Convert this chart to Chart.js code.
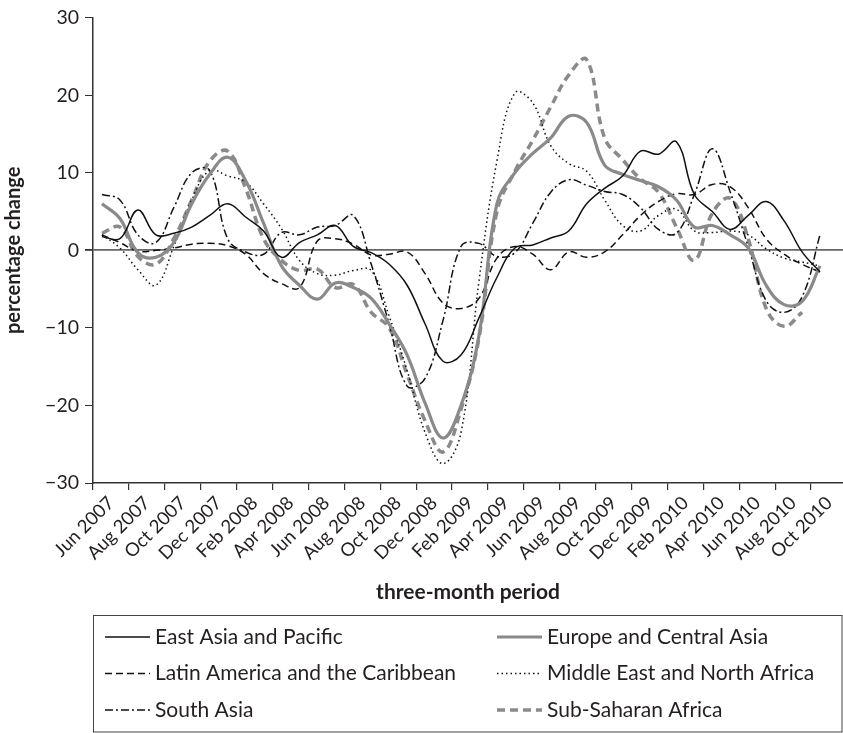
<!DOCTYPE html>
<html>
<head>
<meta charset="utf-8">
<script src="https://cdn.jsdelivr.net/npm/chart.js@4.4.1/dist/chart.umd.min.js"></script>
<style>
  html, body { margin: 0; padding: 0; background: #fff; }
  #wrap { width: 843px; height: 733px; }
</style>
</head>
<body>
<div id="wrap"><canvas id="chart" width="843" height="733"></canvas></div>
<script>
'use strict';
// monthly three-month periods, Jun 2007 .. Oct 2010
const months = [
  'Jun 2007', 'Jul 2007', 'Aug 2007', 'Sep 2007', 'Oct 2007', 'Nov 2007', 'Dec 2007',
  'Jan 2008', 'Feb 2008', 'Mar 2008', 'Apr 2008', 'May 2008', 'Jun 2008', 'Jul 2008',
  'Aug 2008', 'Sep 2008', 'Oct 2008', 'Nov 2008', 'Dec 2008', 'Jan 2009', 'Feb 2009',
  'Mar 2009', 'Apr 2009', 'May 2009', 'Jun 2009', 'Jul 2009', 'Aug 2009', 'Sep 2009',
  'Oct 2009', 'Nov 2009', 'Dec 2009', 'Jan 2010', 'Feb 2010', 'Mar 2010', 'Apr 2010',
  'May 2010', 'Jun 2010', 'Jul 2010', 'Aug 2010', 'Sep 2010', 'Oct 2010'
];
const xTickLabels = [
  'Jun 2007', 'Aug 2007', 'Oct 2007', 'Dec 2007', 'Feb 2008', 'Apr 2008', 'Jun 2008',
  'Aug 2008', 'Oct 2008', 'Dec 2008', 'Feb 2009', 'Apr 2009', 'Jun 2009', 'Aug 2009',
  'Oct 2009', 'Dec 2009', 'Feb 2010', 'Apr 2010', 'Jun 2010', 'Aug 2010', 'Oct 2010'
];
const yTicks = [-30, -20, -10, 0, 10, 20, 30];

const eastAsia = [1.8, 1.5, 5.2, 2.0, 2.2, 3.0, 4.5, 6.0, 4.3, 2.5, -0.9, 1.0, 2.0, 3.2, 0.5,
  -0.3, -1.8, -4.5, -9.5, -14.3, -13.5, -8.7, -3.5, 0.3, 0.7, 1.6, 2.5, 6.0, 8.0, 9.6,
  12.8, 12.4, 14.0, 7.2, 5.0, 2.7, 4.5, 6.3, 3.8, -0.2, -2.8];
const europe = [6.0, 4.1, -0.3, -0.9, 1.0, 6.0, 9.8, 12.0, 9.0, 3.5, -2.0, -4.5, -6.3, -4.2, -4.8,
  -6.2, -9.5, -13.5, -19.7, -24.2, -20.0, -11.0, 6.0, 10.0, 12.5, 14.5, 17.3, 16.5, 11.0, 9.8,
  9.0, 8.2, 6.5, 3.0, 3.2, 2.0, 0.3, -4.5, -7.0, -6.6, -2.0];
const latinAmerica = [2.0, 1.0, -0.1, 0.0, 0.3, 0.8, 0.9, 0.6, -0.5, -3.0, -4.3, -4.8, 1.2, 1.5, 0.8,
  -0.6, -0.5, -0.2, -3.0, -6.8, -7.5, -6.2, -1.0, 0.5, -0.5, -2.5, -0.2, -0.9, -0.2, 2.0,
  4.5, 6.3, 7.3, 7.2, 8.5, 8.2, 5.5, 1.5, -0.5, -1.8, -2.8];
const middleEast = [2.0, 0.3, -2.5, -4.5, 0.5, 6.5, 10.3, 9.6, 8.8, 6.0, 2.8, -1.3, -3.0, -3.2, -2.6,
  -2.6, -8.5, -15.5, -23.5, -27.5, -23.5, -4.0, 11.5, 20.3, 19.0, 13.5, 11.2, 10.2, 6.5, 3.2,
  2.5, 4.5, 5.3, 2.5, 2.3, 2.5, 2.0, 0.2, -1.0, -1.5, -2.0];
const southAsia = [7.2, 6.5, 2.0, 1.0, 5.5, 10.0, 10.3, 1.5, -0.2, -0.5, 2.3, 2.0, 3.0, 3.2, 4.5,
  -1.8, -9.5, -17.5, -16.5, -9.0, 0.5, 0.9, -0.8, -0.3, 3.5, 7.5, 9.1, 8.4, 7.6, 7.2,
  5.5, 2.7, 2.2, 7.2, 13.1, 7.5, 0.5, -6.5, -8.0, -6.0, 2.0];
const subSaharan = [2.2, 3.0, -0.8, -1.8, 1.5, 6.5, 11.5, 12.8, 8.0, 1.5, -1.3, -2.6, -2.4, -4.8, -4.4,
  -8.0, -10.0, -16.0, -22.0, -26.0, -20.5, -11.3, 5.0, 10.2, 14.2, 18.5, 22.6, 24.6, 14.5, 11.7,
  9.2, 7.5, 3.0, -1.3, 4.8, 6.7, 1.5, -7.5, -9.8, -8.0, null];

const FONT = 'Lato, "Noto Sans", sans-serif';
const INK = '#231f20';
const GREY = '#8a8a8a';

const toPoints = arr => months.map((m, i) => ({ x: i, y: arr[i] }));

const series = [
  { label: 'East Asia and Pacific', data: eastAsia, color: '#111', width: 1.5, dash: [] },
  { label: 'Europe and Central Asia', data: europe, color: GREY, width: 3.2, dash: [] },
  { label: 'Latin America and the Caribbean', data: latinAmerica, color: '#111', width: 1.5, dash: [7, 4] },
  { label: 'Middle East and North Africa', data: middleEast, color: '#111', width: 1.5, dash: [1.5, 3] },
  { label: 'South Asia', data: southAsia, color: '#111', width: 1.5, dash: [8, 3, 2, 3] },
  { label: 'Sub-Saharan Africa', data: subSaharan, color: GREY, width: 3.5, dash: [8, 5] }
];

// boxed two-column legend under the x axis title
const boxLegend = {
  id: 'boxLegend',
  afterDraw(chart) {
    const ctx = chart.ctx;
    ctx.save();
    ctx.strokeStyle = '#444';
    ctx.lineWidth = 1;
    ctx.setLineDash([]);
    ctx.strokeRect(93.5, 615.5, 748.5, 116.5);
    chart.data.datasets.forEach((ds, i) => {
      const col = i % 2, row = Math.floor(i / 2);
      const x0 = col ? 497 : 105;
      const y = 637 + row * 36.5;
      ctx.beginPath();
      ctx.setLineDash(ds.borderDash || []);
      ctx.lineWidth = ds.borderWidth;
      ctx.strokeStyle = ds.borderColor;
      ctx.moveTo(x0, y);
      ctx.lineTo(x0 + 45, y);
      ctx.stroke();
      ctx.setLineDash([]);
      ctx.fillStyle = INK;
      ctx.font = '21px ' + FONT;
      ctx.textBaseline = 'middle';
      ctx.fillText(ds.label, x0 + 50, y);
    });
    ctx.restore();
  }
};

new Chart(document.getElementById('chart'), {
  type: 'line',
  data: {
    datasets: series.map(s => ({
      label: s.label,
      data: toPoints(s.data),
      borderColor: s.color,
      borderWidth: s.width,
      borderDash: s.dash,
      borderCapStyle: 'butt',
      pointRadius: 0,
      tension: 0.4,
      fill: false
    }))
  },
  options: {
    responsive: false,
    animation: false,
    layout: { padding: { top: 6, right: 0, bottom: 118, left: 0 } },
    plugins: { legend: { display: false }, tooltip: { enabled: false } },
    scales: {
      x: {
        type: 'linear',
        min: -0.5,
        max: 41.28,
        afterBuildTicks: s => { s.ticks = xTickLabels.map((_, k) => ({ value: -0.5 + 2 * k })); },
        afterFit: s => { s.height = 132; },
        ticks: {
          autoSkip: false, minRotation: 45, maxRotation: 45, labelOffset: 18, padding: 2,
          color: INK, font: { family: FONT, size: 18.5 },
          callback: (v, k) => xTickLabels[k]
        },
        grid: { drawOnChartArea: false, tickLength: 7, color: '#333', lineWidth: 1.2 },
        border: { color: '#333', width: 1.5 },
        title: {
          display: true, text: 'three-month period', color: INK,
          font: { family: FONT, size: 21, weight: 'bold' }, padding: { top: 0, bottom: 10 }
        }
      },
      y: {
        min: -30,
        max: 30,
        afterBuildTicks: s => { s.ticks = yTicks.map(v => ({ value: v })); },
        afterFit: s => { s.width = 93; },
        ticks: {
          padding: 6, color: INK, font: { family: FONT, size: 19.5 },
          callback: v => (v < 0 ? '\u2212' + Math.abs(v) : String(v))
        },
        grid: {
          color: c => (c.tick && c.tick.value === 0 ? '#666' : 'rgba(0,0,0,0)'),
          lineWidth: c => (c.tick && c.tick.value === 0 ? 1.8 : 1),
          tickColor: '#333',
          tickLength: 8
        },
        border: { color: '#333', width: 1.5 },
        title: {
          display: true, text: 'percentage change', color: INK,
          font: { family: FONT, size: 20, weight: 'bold' }, padding: { top: 2, bottom: 0 }
        }
      }
    }
  },
  plugins: [boxLegend]
});
</script>
</body>
</html>
